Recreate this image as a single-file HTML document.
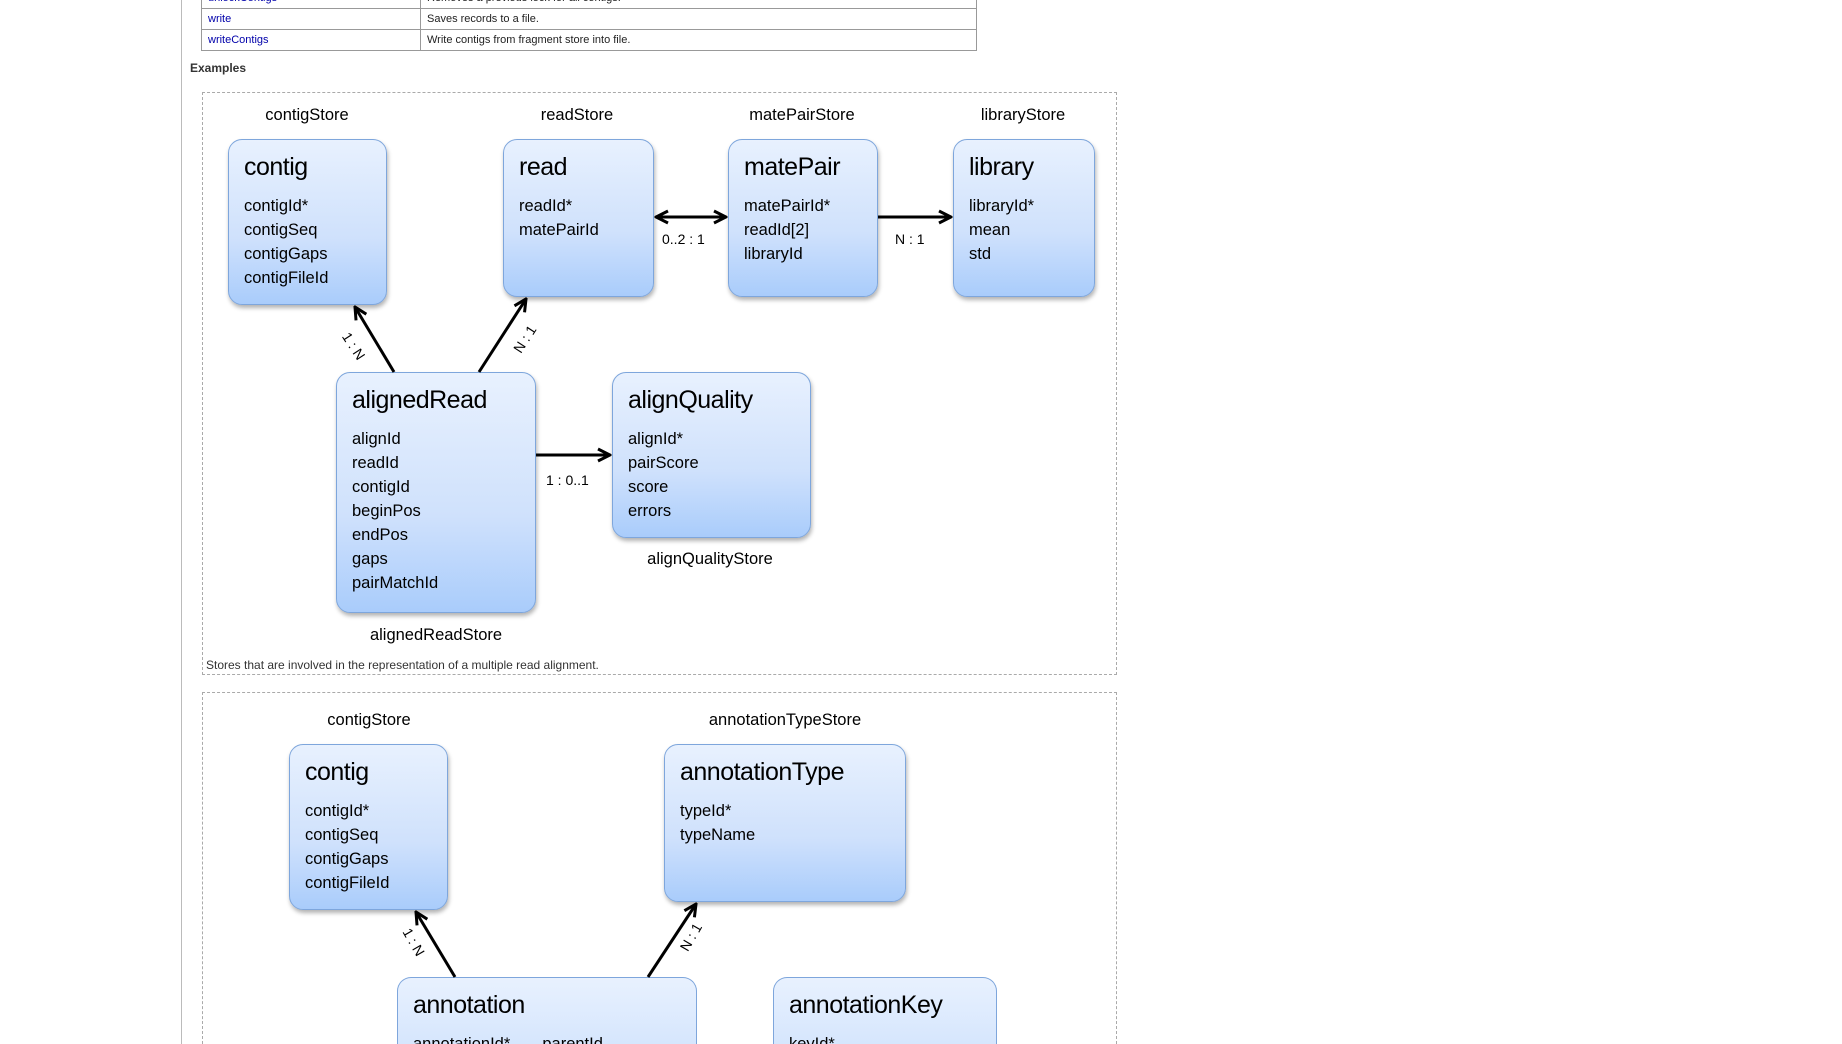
<!DOCTYPE html>
<html><head><meta charset="utf-8"><style>
html,body{margin:0;padding:0;width:1842px;height:1044px;overflow:hidden;background:#fff}
#w{position:relative;width:1842px;height:1044px;overflow:hidden;font-family:"Liberation Sans",sans-serif}
.a{position:absolute}
.vl{left:181px;top:0;width:1px;height:1044px;background:#bbb}
table{position:absolute;left:201px;top:-13px;width:776px;border-collapse:collapse;font-size:11px}
td{border:1px solid #999;height:20px;padding:0 6px;color:#222}
td a{color:#00a;text-decoration:none}
.box{position:absolute;border:1px solid #7ea6dc;border-radius:14px;background:linear-gradient(#e8f1fe,#cfe1fc 60%,#a9ccfb);box-shadow:1px 3px 4px rgba(0,0,0,.3);box-sizing:border-box;padding-left:15px;color:#000;overflow:hidden}
.box .t{font-size:25px;margin-top:12px;line-height:30px;letter-spacing:-.5px}
.box .f{font-size:16.5px;line-height:24px;margin-top:12px}
.cut{border-bottom:none;border-radius:14px 14px 0 0;box-shadow:none;background:linear-gradient(#e8f1fe,#d6e6fd)}
.lbl{position:absolute;font-size:16.5px;transform:translateX(-50%);white-space:nowrap}
.sm{position:absolute;font-size:14px;white-space:nowrap}
.dash{position:absolute;border:1px dashed #aaa;box-sizing:border-box}
</style></head><body><div id="w">
<div class="a vl"></div>
<table>
<tr><td style="width:206px"><a>unlockContigs</a></td><td>Removes a previous lock for all contigs.</td></tr>
<tr><td><a>write</a></td><td>Saves records to a file.</td></tr>
<tr><td><a>writeContigs</a></td><td>Write contigs from fragment store into file.</td></tr>
</table>
<div class="a" style="left:190px;top:61px;font-size:12px;font-weight:bold;color:#333">Examples</div>
<div class="dash" style="left:202px;top:92px;width:915px;height:583px"></div>
<div class="dash" style="left:202px;top:692px;width:915px;height:352px;border-bottom:none"></div>

<div class="lbl" style="left:307px;top:106px">contigStore</div>
<div class="lbl" style="left:577px;top:106px">readStore</div>
<div class="lbl" style="left:802px;top:106px">matePairStore</div>
<div class="lbl" style="left:1023px;top:106px">libraryStore</div>

<div class="box" style="left:228px;top:139px;width:159px;height:166px"><div class="t">contig</div><div class="f">contigId*<br>contigSeq<br>contigGaps<br>contigFileId</div></div>
<div class="box" style="left:503px;top:139px;width:151px;height:158px"><div class="t">read</div><div class="f">readId*<br>matePairId</div></div>
<div class="box" style="left:728px;top:139px;width:150px;height:158px"><div class="t">matePair</div><div class="f">matePairId*<br>readId[2]<br>libraryId</div></div>
<div class="box" style="left:953px;top:139px;width:142px;height:158px"><div class="t">library</div><div class="f">libraryId*<br>mean<br>std</div></div>
<div class="box" style="left:336px;top:372px;width:200px;height:241px"><div class="t">alignedRead</div><div class="f">alignId<br>readId<br>contigId<br>beginPos<br>endPos<br>gaps<br>pairMatchId</div></div>
<div class="box" style="left:612px;top:372px;width:199px;height:166px"><div class="t">alignQuality</div><div class="f">alignId*<br>pairScore<br>score<br>errors</div></div>
<div class="lbl" style="left:710px;top:550px">alignQualityStore</div>
<div class="lbl" style="left:436px;top:626px">alignedReadStore</div>
<div class="a" style="left:206px;top:658px;font-size:12px;color:#333">Stores that are involved in the representation of a multiple read alignment.</div>

<div class="sm" style="left:662px;top:231px">0..2 : 1</div>
<div class="sm" style="left:895px;top:231px">N : 1</div>
<div class="sm" style="left:546px;top:472px">1 : 0..1</div>
<div class="sm" style="left:339px;top:338px;transform:rotate(57deg)">1 : N</div>
<div class="sm" style="left:510px;top:331px;transform:rotate(-57deg)">N : 1</div>

<div class="lbl" style="left:369px;top:711px">contigStore</div>
<div class="lbl" style="left:785px;top:711px">annotationTypeStore</div>
<div class="box" style="left:289px;top:744px;width:159px;height:166px"><div class="t">contig</div><div class="f">contigId*<br>contigSeq<br>contigGaps<br>contigFileId</div></div>
<div class="box" style="left:664px;top:744px;width:242px;height:158px"><div class="t">annotationType</div><div class="f">typeId*<br>typeName</div></div>
<div class="box cut" style="left:397px;top:977px;width:300px;height:67px"><div class="t">annotation</div><div class="f">annotationId* &nbsp; &nbsp; &nbsp; parentId</div></div>
<div class="box cut" style="left:773px;top:977px;width:224px;height:67px"><div class="t">annotationKey</div><div class="f">keyId*</div></div>
<div class="sm" style="left:399px;top:934px;transform:rotate(60deg)">1 : N</div>
<div class="sm" style="left:676px;top:929px;transform:rotate(-60deg)">N : 1</div>

<svg class="a" style="left:0;top:0" width="1842" height="1044">
<defs><marker id="m" viewBox="0 0 10 10" refX="9" refY="5" markerWidth="5" markerHeight="5" orient="auto-start-reverse"><path d="M1,1 L9,5 L1,9" fill="none" stroke="#000" stroke-width="2"/></marker></defs>
<g stroke="#000" stroke-width="3" fill="none">
<line x1="656" y1="217" x2="726" y2="217" marker-start="url(#m)" marker-end="url(#m)"/>
<line x1="878" y1="217" x2="951" y2="217" marker-end="url(#m)"/>
<line x1="536" y1="455" x2="610" y2="455" marker-end="url(#m)"/>
<line x1="394" y1="372" x2="355" y2="307" marker-end="url(#m)"/>
<line x1="479" y1="372" x2="526" y2="299" marker-end="url(#m)"/>
<line x1="455" y1="977" x2="416" y2="912" marker-end="url(#m)"/>
<line x1="648" y1="977" x2="696" y2="904" marker-end="url(#m)"/>
</g></svg>
</div></body></html>
